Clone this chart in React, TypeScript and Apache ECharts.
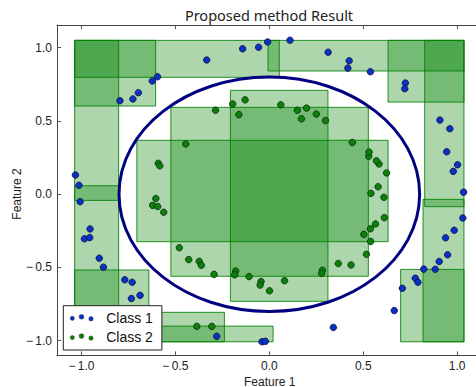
import React, { useEffect, useRef } from "react";
import * as echarts from "echarts";

// Hyperboxes: [xMin, yMin, xMax, yMax]
const boxes: number[][] = [
  [-1.036, 0.798, 0.053, 1.05],
  [-1.036, 0.602, -0.605, 1.05],
  [-1.036, -0.042, -0.802, 1.05],
  [-1.036, -0.85, -0.802, 0.058],
  [-1.036, -0.85, -0.641, -0.517],
  [-0.7, -1.007, -0.239, -0.806],
  [-0.7, -1.007, 0.02, -0.9],
  [-0.705, -0.324, 0.632, 0.368],
  [-0.524, -0.56, 0.527, 0.593],
  [-0.207, -0.731, 0.312, 0.709],
  [-0.007, 0.841, 1.036, 1.05],
  [0.632, 0.629, 1.036, 1.05],
  [0.827, -0.085, 1.036, 1.05],
  [0.818, -1.007, 1.036, -0.035],
  [0.699, -1.007, 1.036, -0.513],
];

// Decision boundary: [cx, cy, radius]
const boundary: number[][] = [[0, 0, 0.8]];

const class1: number[][] = [
  [-0.795, 0.638], [-0.726, 0.65], [-0.697, 0.693], [-0.623, 0.773], [-0.595, 0.802], [-0.333, 0.916],
  [-1.032, 0.131], [-1.013, 0.061], [-0.142, 0.993], [-0.057, 1.003], [-0.009, 1.039], [0.11, 1.051],
  [0.313, 0.969], [0.425, 0.911], [0.418, 0.861], [0.538, 0.836], [0.724, 0.759], [0.721, 0.72],
  [0.908, 0.506], [0.961, 0.447], [0.944, 0.29], [1.002, 0.201], [0.979, 0.156], [1.034, 0.014],
  [1.03, -0.162], [0.984, -0.246], [0.938, -0.297], [0.949, -0.413], [0.904, -0.459], [0.883, -0.512],
  [0.822, -0.511], [0.777, -0.573], [0.791, -0.601], [0.708, -0.642], [0.665, -0.794], [0.341, -0.909],
  [-0.039, -1.007], [-0.021, -1.004], [-1.007, -0.051], [-0.954, -0.237], [-0.984, -0.304], [-0.956, -0.296],
  [-0.905, -0.437], [-0.883, -0.498], [-0.769, -0.584], [-0.73, -0.601], [-0.734, -0.712], [-0.688, -0.69],
  [-0.28, -0.97],
];

const class2: number[][] = [
  [-0.286, 0.573], [-0.195, 0.616], [-0.162, 0.543], [-0.129, 0.644], [-0.445, 0.343], [-0.591, 0.211],
  [-0.583, 0.194], [-0.604, -0.029], [-0.621, -0.076], [-0.594, -0.084], [-0.562, -0.123], [-0.479, -0.365],
  [-0.429, -0.446], [-0.373, -0.458], [-0.362, -0.485], [-0.294, -0.547], [-0.179, -0.524], [-0.184, -0.55],
  [-0.108, -0.562], [-0.044, -0.596], [-0.049, -0.62], [0.001, -0.659], [0.081, -0.59], [0.283, -0.519],
  [0.278, -0.54], [0.367, -0.473], [0.435, -0.483], [0.517, -0.41], [0.539, -0.322], [0.503, -0.274],
  [0.538, -0.236], [0.565, -0.203], [0.612, -0.16], [0.61, -0.021], [0.541, 0.006], [0.579, 0.051],
  [0.624, 0.145], [0.584, 0.206], [0.57, 0.228], [0.529, 0.259], [0.531, 0.288], [0.442, 0.353],
  [0.299, 0.503], [0.25, 0.547], [0.171, 0.515], [0.198, 0.588], [0.149, 0.573], [0.061, 0.61],
  [-0.386, -0.902], [-0.306, -0.902],
];

const tickValues: number[] = [-1, -0.5, 0, 0.5, 1];
const seriesNames: string[] = ["Class 1", "Class 2"];
const titleText = "Proposed method Result";
const xTitle = "Feature 1";
const yTitle = "Feature 2";

const legendIcon =
  "path://M0.2,4.5a2.1,2.1 0 1,0 4.2,0a2.1,2.1 0 1,0 -4.2,0Z" +
  "M9.1,3a2.4,2.4 0 1,0 4.8,0a2.4,2.4 0 1,0 -4.8,0Z" +
  "M18.8,5a2.2,2.2 0 1,0 4.4,0a2.2,2.2 0 1,0 -4.4,0Z";

const fmt = (v: number) => (v < 0 ? "\u2212\u2009" : "") + Math.abs(v).toFixed(1);

export default function App() {
  const ref = useRef<HTMLDivElement>(null);
  useEffect(() => {
    if (!ref.current) return;
    const chart = echarts.init(ref.current, undefined, { renderer: "svg" });
    const tickFont = { fontFamily: "Liberation Sans", fontSize: 12, color: "#222" };
    const axisLine = { show: true, onZero: false, lineStyle: { color: "#444", width: 1 } };
    const axisTick = {
      show: true, inside: true, length: 4, customValues: tickValues,
      lineStyle: { color: "#555", width: 1 },
    };
    chart.setOption({
      animation: false,
      grid: { left: 57, top: 25, width: 420, height: 330.4, containLabel: false },
      xAxis: [
        {
          type: "value", min: -1.13, max: 1.1, position: "bottom",
          axisLine, axisTick,
          axisLabel: { customValues: tickValues, formatter: fmt, margin: 5, ...tickFont },
          splitLine: { show: false },
        },
        {
          type: "value", min: -1.13, max: 1.1, position: "top",
          axisLine, axisTick,
          axisLabel: { show: false },
          splitLine: { show: false },
        },
      ],
      yAxis: {
        type: "value", min: -1.1, max: 1.155,
        axisLine, axisTick,
        axisLabel: { customValues: tickValues, formatter: fmt, margin: 5, ...tickFont },
        splitLine: { show: false },
      },
      legend: {
        data: seriesNames,
        orient: "vertical",
        left: 63.3, top: 305.7,
        padding: [5, 9, 6, 6.7],
        itemGap: 5.3,
        itemWidth: 23, itemHeight: 7,
        icon: legendIcon,
        itemStyle: { borderWidth: 0.4 },
        backgroundColor: "#fff",
        borderColor: "#222", borderWidth: 1,
        textStyle: { fontFamily: "Liberation Sans", fontSize: 14, color: "#111", padding: [0, 0, 0, 8] },
        z: 20,
      },
      series: [
        {
          type: "custom",
          name: "boxes",
          data: boxes,
          encode: { x: [0, 2], y: [1, 3] },
          z: 1,
          silent: true,
          renderItem: (params: any, api: any) => {
            const p0 = api.coord([api.value(0), api.value(3)]);
            const p1 = api.coord([api.value(2), api.value(1)]);
            return {
              type: "rect",
              shape: { x: p0[0], y: p0[1], width: p1[0] - p0[0], height: p1[1] - p0[1] },
              style: { fill: "rgba(0,128,0,0.32)", stroke: "rgba(0,128,0,0.85)", lineWidth: 1 },
            };
          },
        },
        {
          type: "custom",
          name: "boundary",
          data: boundary,
          encode: { x: 0, y: 1 },
          z: 3,
          silent: true,
          renderItem: (params: any, api: any) => {
            const c = api.coord([api.value(0), api.value(1)]);
            const s = api.size([api.value(2), api.value(2)]);
            return {
              type: "ellipse",
              shape: { cx: c[0], cy: c[1], rx: s[0], ry: s[1] },
              style: { fill: "none", stroke: "#000080", lineWidth: 3 },
            };
          },
        },
        {
          type: "scatter",
          name: seriesNames[0],
          data: class1,
          symbolSize: 6.5,
          z: 5,
          itemStyle: { color: "#0a32c4", borderColor: "#0a0a40", borderWidth: 0.8, opacity: 1 },
        },
        {
          type: "scatter",
          name: seriesNames[1],
          data: class2,
          symbolSize: 6.5,
          z: 5,
          itemStyle: { color: "#0a820a", borderColor: "#0a2a0a", borderWidth: 0.8, opacity: 1 },
        },
      ],
      graphic: [
        {
          type: "text", x: 269, y: 15, z: 30,
          style: {
            text: titleText, fontFamily: "Noto Sans", fontSize: 14.5, fill: "#222",
            align: "center", verticalAlign: "middle",
          },
        },
        {
          type: "text", x: 269.7, y: 381.5, z: 30,
          style: {
            text: xTitle, fontFamily: "Liberation Sans", fontSize: 12, fill: "#222",
            align: "center", verticalAlign: "middle",
          },
        },
        {
          type: "text", x: 16.5, y: 194, rotation: Math.PI / 2, z: 30,
          style: {
            text: yTitle, fontFamily: "Liberation Sans", fontSize: 12, fill: "#222",
            align: "center", verticalAlign: "middle",
          },
        },
      ],
    });
    return () => chart.dispose();
  }, []);
  return (
    <div
      ref={ref}
      style={{ position: "absolute", left: 0, top: 0, width: 476, height: 387, background: "#fff" }}
    />
  );
}
